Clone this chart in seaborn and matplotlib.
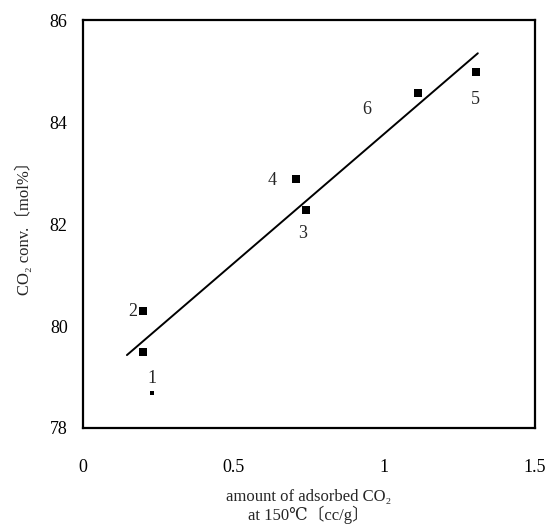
import matplotlib
matplotlib.use("Agg")
import matplotlib.pyplot as plt
import seaborn as sns
import pandas as pd

# Catalyst samples: adsorbed CO2 at 150 C vs. CO2 conversion
sample_ids = ["1", "2", "3", "4", "5", "6"]
adsorbed_co2 = [0.200, 0.199, 0.740, 0.707, 1.304, 1.112]
co2_conversion = [79.49, 80.29, 82.27, 82.88, 84.98, 84.57]

# Fitted trend line end points
fit_x = [0.146, 1.311]
fit_y = [79.43, 85.35]

# Label offsets (points) relative to each marker
label_dx = [6, -7, -2, -17, 0, -37]
label_dy = [-19, 0, -17, -1, -20, -12]

x_ticks = [0, 0.5, 1, 1.5]
x_tick_labels = ["0", "0.5", "1", "1.5"]
y_ticks = [78, 80, 82, 84, 86]
y_tick_labels = ["78", "80", "82", "84", "86"]

sns.set_theme(style="white")
serif = ["Liberation Serif", "DejaVu Serif", "Noto Sans CJK JP"]
plt.rcParams["font.family"] = serif

fig = plt.figure(figsize=(5.53, 5.30), dpi=100)
ax = fig.add_axes([0.150, 0.1925, 0.817, 0.7695])

df = pd.DataFrame({"x": adsorbed_co2, "y": co2_conversion, "id": sample_ids})
fit = pd.DataFrame({"x": fit_x, "y": fit_y})

sns.lineplot(data=fit, x="x", y="y", ax=ax, color="black", linewidth=1.4)
sns.scatterplot(data=df, x="x", y="y", ax=ax, marker="s", s=26,
                color="black", edgecolor="black", linewidth=0)
# small speck below sample 1
sns.scatterplot(x=[0.229], y=[78.69], ax=ax, marker="s", s=5,
                color="black", linewidth=0)

for xi, yi, lab, dx, dy in zip(adsorbed_co2, co2_conversion, sample_ids,
                               label_dx, label_dy):
    ax.annotate(lab, (xi, yi), xytext=(dx, dy), textcoords="offset points",
                ha="center", va="center", fontsize=13, family=serif)

ax.set_xlim(0, 1.5)
ax.set_ylim(78, 86)
ax.set_xticks(x_ticks)
ax.set_xticklabels(x_tick_labels, fontsize=13, family=serif)
ax.set_yticks(y_ticks)
ax.set_yticklabels(y_tick_labels, fontsize=13, family=serif)
ax.tick_params(axis="x", direction="in", length=3, width=0.8, pad=22,
               colors="black")
ax.tick_params(axis="y", direction="in", length=3, width=0.8, pad=11,
               colors="black")

for side in ["left", "bottom", "right", "top"]:
    ax.spines[side].set_visible(True)
    ax.spines[side].set_color("black")
    ax.spines[side].set_linewidth(1.6)

ax.set_xlabel("amount of adsorbed CO₂\nat 150℃〔cc/g〕", fontsize=12,
              family=serif, labelpad=10, linespacing=1.05)
ax.set_ylabel("CO₂ conv.〔mol%〕", fontsize=12, family=serif, labelpad=12)

fig.savefig("out.png", dpi=100, facecolor="white")
